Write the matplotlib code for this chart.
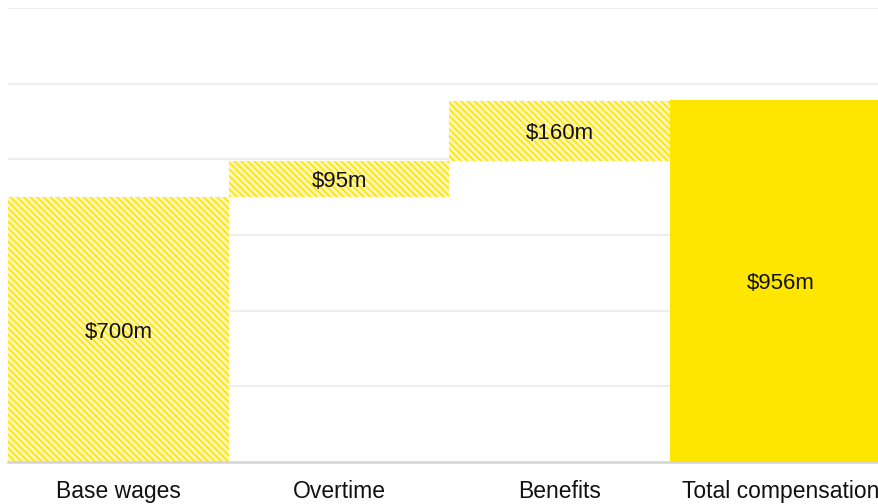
import matplotlib.pyplot as plt
import matplotlib as mpl

categories = ['Base wages', 'Overtime', 'Benefits', 'Total compensation']
steps = [700, 95, 160]
total = 956
labels = ['$700m', '$95m', '$160m', '$956m']

plt.rcParams['font.family'] = ['Liberation Sans', 'DejaVu Sans']
plt.rcParams['hatch.linewidth'] = 1.2
plt.rcParams['hatch.color'] = '#FFE600'

fig = plt.figure(figsize=(8.79, 5.04), dpi=100)
ax = fig.add_axes([8 / 879, 1 - 462 / 504, 883 / 879, 454 / 504])

bottoms = []
run = 0
for s in steps:
    bottoms.append(run)
    run += s

x = list(range(len(categories)))
for i, (b, h) in enumerate(zip(bottoms, steps)):
    ax.bar(i, h, bottom=b, width=1.0, color='#FFF6B8', edgecolor='#FFE600',
           linewidth=0, hatch='\\' * 5, zorder=2)
    ax.text(i, b + h / 2, labels[i].replace('$', r'\$'), ha='center',
            va='center_baseline', fontsize=16, color='#111111', zorder=3)

ax.bar(3, total, width=1.0, color='#FFE600', linewidth=0, zorder=2)
ax.text(3, total / 2, labels[3].replace('$', r'\$'), ha='center',
        va='center_baseline', fontsize=16, color='#111111', zorder=3)

ax.set_xlim(-0.5, 3.5)
ax.set_ylim(0, 1200)
ax.set_yticks([200, 400, 600, 800, 1000, 1200])
ax.yaxis.grid(True, color='#eeeeee', linewidth=1.5, zorder=0)
ax.set_axisbelow(True)
ax.set_yticklabels([])
ax.tick_params(axis='y', length=0)
ax.set_xticks(x)
ax.set_xticklabels(categories, fontsize=16.5, color='#111111')
ax.tick_params(axis='x', length=0, pad=13)
for side in ['top', 'right', 'left']:
    ax.spines[side].set_visible(False)
ax.spines['bottom'].set_color('#d4d4d4')
ax.spines['bottom'].set_linewidth(1.8)
ax.spines['bottom'].set_zorder(4)

fig.savefig('out.png', dpi=100)
